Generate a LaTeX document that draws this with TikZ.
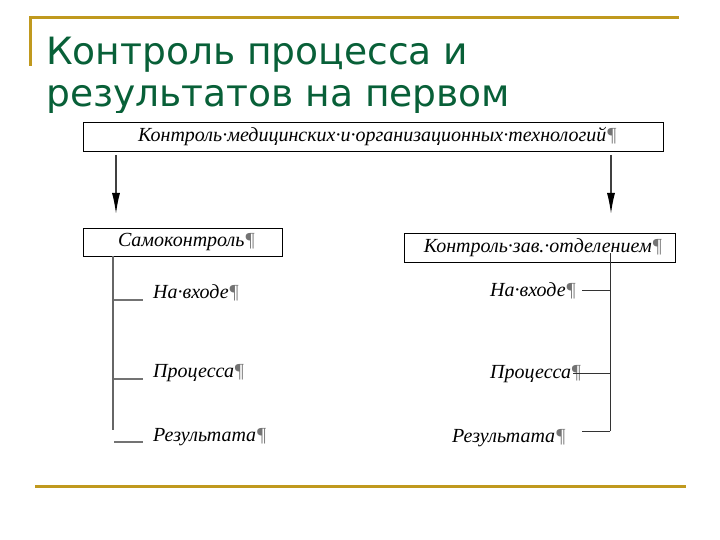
\documentclass[tikz,border=0pt]{standalone}
\usepackage{fontspec}
\setmainfont{Liberation Serif}
\newfontfamily\titlefont{DejaVu Sans}
\usetikzlibrary{arrows.meta}
\definecolor{titlegreen}{RGB}{8,96,56}
\definecolor{gold}{RGB}{192,153,30}
\newcommand{\pil}{\textcolor{black!55}{¶}}
\tikzset{
  boxnode/.style={draw=black, line width=0.9pt, inner sep=0pt, font=\fontsize{20}{22}\selectfont\itshape},
  lbl/.style={anchor=base west, inner sep=0pt, font=\fontsize{20}{22}\selectfont\itshape},
  titletext/.style={anchor=base west, inner sep=0pt, text=titlegreen, font=\titlefont\fontsize{37.6}{40}\selectfont},
  arr/.style={draw=black!75, line width=1.4pt, -{Latex[length=21pt,width=8pt,color=black]}},
  leftbar/.style={draw=black!60, line width=2.2pt},
  lefttick/.style={draw=black!55, line width=1.4pt},
  rightbar/.style={draw=black!80, line width=1pt},
  goldline/.style={draw=gold, line width=3pt},
}
\begin{document}
\begin{tikzpicture}[x=1pt,y=-1pt]
\fill[white] (0,0) rectangle (720,540);
\useasboundingbox (0,0) rectangle (720,540);
% decorations
\draw[goldline] (29,18) -- (679,18);
\draw[goldline] (30.5,18) -- (30.5,66);
\draw[goldline] (35,486) -- (686,486);
% title
\node[titletext] (title1) at (46,65) {Контроль процесса и};
\node[titletext] (title2) at (46,107) {результатов на первом};
% the diagram picture lies over the lower edge of the title
\fill[white] (40,113) rectangle (680,121);
% boxes
\node[boxnode, minimum width=580pt, minimum height=29pt] (top) at (373,136.5) {\hspace*{9pt}Контроль·медицинских·и·организационных·технологий\pil};
\node[boxnode, minimum width=199pt, minimum height=28pt] (self) at (182.5,242) {\hspace*{8pt}Самоконтроль\pil};
\node[boxnode, minimum width=271pt, minimum height=29pt] (head) at (539.5,247.5) {\hspace*{7pt}Контроль·зав.·отделением\pil};
% arrows
\coordinate (a1s) at (116,155);
\coordinate (a1e) at (116,214);
\coordinate (a2s) at (611,155);
\coordinate (a2e) at (611,214);
\draw[arr] (a1s) -- (a1e);
\draw[arr] (a2s) -- (a2e);
% left labels
\node[lbl] (l1) at (153,298) {На·входе\pil};
\node[lbl] (l2) at (153,377) {Процесса\pil};
\node[lbl] (l3) at (153,441) {Результата\pil};
\coordinate (lb) at (113,430);
\draw[leftbar] (self.south -| lb) -- (lb);
\coordinate (t1) at (114,300);
\coordinate (t2) at (114,379);
\coordinate (t3) at (114,442);
\draw[lefttick] (t1) -- (t1 -| 143,0);
\draw[lefttick] (t2) -- (t2 -| 143,0);
\draw[lefttick] (t3) -- (t3 -| 143,0);
% right labels
\node[lbl] (r1) at (490,296) {На·входе\pil};
\node[lbl] (r2) at (490,378) {Процесса\pil};
\node[lbl] (r3) at (452,442) {Результата\pil};
\coordinate (rtop) at (610,253);
\coordinate (rb) at (610,431);
\draw[rightbar] (rtop) -- (rb);
\draw[rightbar] (rb |- 0,290) -- (582,290);
\draw[rightbar] (rb |- 0,373) -- (573,373);
\draw[rightbar] (rb) -- (582,431);
\end{tikzpicture}
\end{document}
